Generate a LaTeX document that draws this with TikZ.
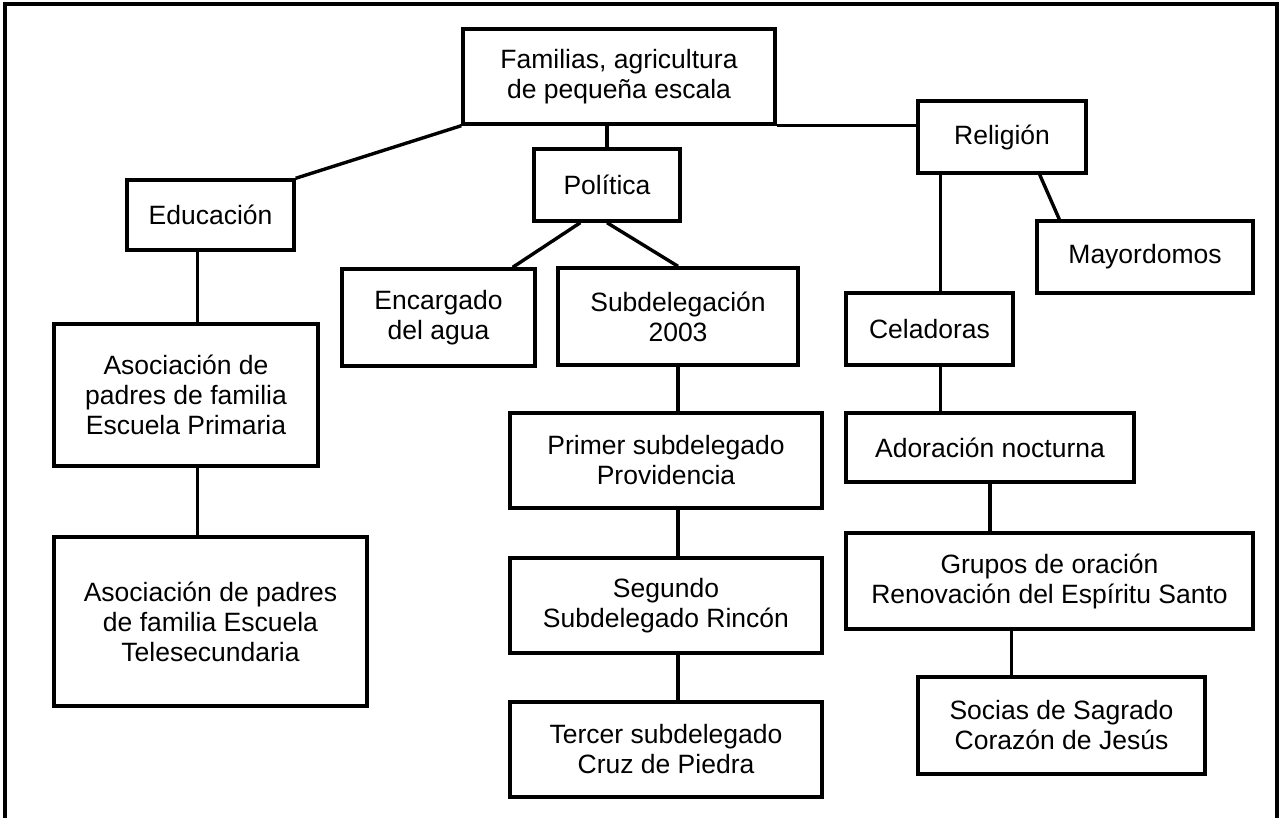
\documentclass[tikz,border=0pt]{standalone}
\usepackage{fontspec}
\setmainfont{Liberation Sans}
\usetikzlibrary{positioning, calc}

\begin{document}
\begin{tikzpicture}[x=1pt, y=-1pt,
  box/.style={rectangle, draw=black, line width=3.4pt, align=center, inner sep=0pt,
              font=\fontsize{26.5}{30}\selectfont},
  link/.style={line width=3.4pt, color=black},
  frame/.style={line width=3.4pt, color=black}
]
  \useasboundingbox (0,0) rectangle (1282,818);
  \draw[frame] (5,818) -- (5,4) -- (1277,4) -- (1277,818);

  % top level
  \node[box, minimum width=312pt, minimum height=95pt] (fam) at (619,76.5) {Familias, agricultura\\de peque\~na escala};
  \node[box, minimum width=167pt, minimum height=70pt] (edu) at (210.5,215) {Educaci\'on};
  \node[box, minimum width=146pt, minimum height=72pt] (pol) at (607,185) {Pol\'itica};
  \node[box, minimum width=168pt, minimum height=72pt] (rel) at (1002,137) {Religi\'on};

  % educacion
  \node[box, minimum width=264pt, minimum height=142pt] (aso1) at (186,395) {Asociaci\'on de\\padres de familia\\Escuela Primaria};
  \node[box, minimum width=313pt, minimum height=169pt] (aso2) at (210.5,621.5) {Asociaci\'on de padres\\de familia Escuela\\Telesecundaria};

  % politica
  \node[box, minimum width=193pt, minimum height=97pt] (enc) at (438.5,317.5) {Encargado\\del agua};
  \node[box, minimum width=240pt, minimum height=97pt] (sub) at (678,316.5) {Subdelegaci\'on\\2003};
  \node[box, minimum width=312pt, minimum height=95pt] (pri) at (666,460.5) {Primer subdelegado\\Providencia};
  \node[box, minimum width=312pt, minimum height=95pt] (seg) at (666,605.5) {Segundo\\Subdelegado Rinc\'on};
  \node[box, minimum width=312pt, minimum height=95pt] (ter) at (666,749.5) {Tercer subdelegado\\Cruz de Piedra};

  % religion
  \node[box, minimum width=216pt, minimum height=72pt] (may) at (1145,257) {Mayordomos};
  \node[box, minimum width=167pt, minimum height=72pt] (cel) at (929.5,329) {Celadoras};
  \node[box, minimum width=288pt, minimum height=69pt] (ado) at (990,447.5) {Adoraci\'on nocturna};
  \node[box, minimum width=407pt, minimum height=96pt] (gru) at (1049.5,581) {Grupos de oraci\'on\\Renovaci\'on del Esp\'iritu Santo};
  \node[box, minimum width=287pt, minimum height=97pt] (soc) at (1061.5,725.5) {Socias de Sagrado\\Coraz\'on de Jes\'us};

  % join points
  \coordinate (edujoin) at ([xshift=145pt]aso1.north west);
  \coordinate (reljoin) at ([xshift=24pt]rel.south west);
  \coordinate (socjoin) at ([xshift=95pt]soc.north west);

  \draw[link] (fam.south west) -- (edu.north east);
  \draw[link] (fam.south -| pol.north) -- (pol.north);
  \draw[link] (fam.south east) -- (fam.south east -| rel.west);

  \draw[link] (edu.south -| edujoin) -- (aso1.north -| edujoin);
  \draw[link] (aso1.south -| edujoin) -- (aso2.north -| edujoin);

  \draw[link] ([xshift=48pt]pol.south west) -- ([xshift=-24pt]enc.north east);
  \draw[link] (pol.south) -- (sub.north);
  \draw[link] (sub.south) -- (sub.south |- pri.north);
  \draw[link] (sub.south |- pri.south) -- (sub.south |- seg.north);
  \draw[link] (sub.south |- seg.south) -- (sub.south |- ter.north);

  \draw[link] (reljoin) -- (reljoin |- cel.north);
  \draw[link] ([xshift=-48pt]rel.south east) -- ([xshift=24pt]may.north west);
  \draw[link] (cel.south -| reljoin) -- (ado.north -| reljoin);
  \draw[link] (ado.south) -- (ado.south |- gru.north);
  \draw[link] (socjoin |- gru.south) -- (socjoin);
\end{tikzpicture}
\end{document}
